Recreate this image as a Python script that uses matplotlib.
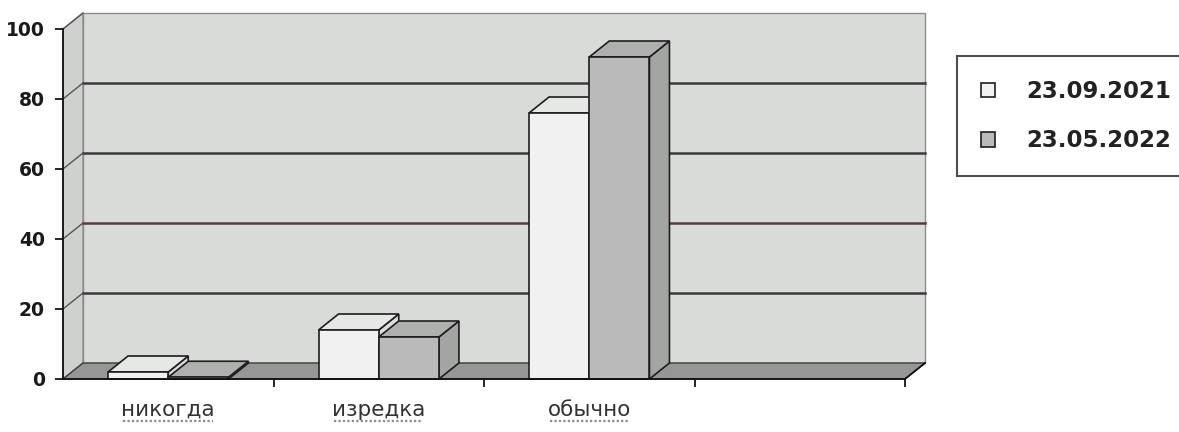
import matplotlib.pyplot as plt
from matplotlib.patches import Polygon
from matplotlib.lines import Line2D
import numpy as np

# data
categories = ["никогда", "изредка", "обычно", ""]
series_names = ["23.09.2021", "23.05.2022"]
values_2021 = [2, 14, 76]
values_2022 = [0.5, 12, 92]
y_ticks = [0, 20, 40, 60, 80, 100]

# styles
front_colors = ["#f0f1f0", "#b9bab9"]
top_colors = ["#e6e8e6", "#aeb0ae"]
side_colors = ["#dcdedc", "#a3a5a3"]
edge = "#1e1e1e"

fig = plt.figure(figsize=(11.79, 4.32), dpi=100)
ax = fig.add_axes([63 / 1179, 1 - 379 / 432, 842 / 1179, 350 / 432])

n_cat = len(categories)
ax.set_xlim(-0.5, n_cat - 0.5)
ax.set_ylim(0, 100)
ax.patch.set_visible(False)

# 3D depth offset in data units (20 px right, 16 px up)
DX = 20 / (842 / n_cat)
DY = 16 / 3.5
x_lo, x_hi = -0.5, n_cat - 0.5

# back wall, left wall, floor
ax.add_patch(Polygon([(x_lo + DX, DY), (x_hi + DX, DY), (x_hi + DX, 100 + DY), (x_lo + DX, 100 + DY)],
                     closed=True, facecolor="#d9dbd9", edgecolor="#8a8a8a", lw=1.0,
                     clip_on=False, zorder=0))
ax.add_patch(Polygon([(x_lo, 0), (x_lo, 100), (x_lo + DX, 100 + DY), (x_lo + DX, DY)],
                     closed=True, facecolor="#cfd1cf", edgecolor="#8a8a8a", lw=1.0,
                     clip_on=False, zorder=0))
ax.add_patch(Polygon([(x_lo, 0), (x_hi, 0), (x_hi + DX, DY), (x_lo + DX, DY)],
                     closed=True, facecolor="#959795", edgecolor="#3a3a3a", lw=1.0,
                     clip_on=False, zorder=0.5))

# gridlines on back wall and left wall
for v in y_ticks[1:-1]:
    c = "#5a3a40" if v == 40 else "#3a3a3a"
    ax.plot([x_lo + DX, x_hi + DX], [v + DY, v + DY], color=c, lw=1.8, clip_on=False, zorder=0.3)
for v in y_ticks[1:]:
    ax.plot([x_lo, x_lo + DX], [v, v + DY], color="#555555", lw=1.0, clip_on=False, zorder=0.3)

# bars: front faces through ax.bar, top and side faces as polygons
W = 0.286
all_bars = []
for s, vals in enumerate([values_2021, values_2022]):
    xs = np.arange(len(vals)) - W + s * W
    bars = ax.bar(xs, vals, width=W, align="edge", color=front_colors[s], edgecolor=edge,
                  lw=1.2, label=series_names[s], clip_on=False)
    for x0, h, p in zip(xs, vals, bars.patches):
        all_bars.append((x0, h, s, p))

all_bars.sort(key=lambda b: b[0])
for k, (x0, h, s, p) in enumerate(all_bars):
    base = 2 + k * 3
    x1 = x0 + W
    side = Polygon([(x1, 0), (x1 + DX, DY), (x1 + DX, h + DY), (x1, h)], closed=True,
                   facecolor=side_colors[s], edgecolor=edge, lw=1.2, clip_on=False, zorder=base)
    top = Polygon([(x0, h), (x1, h), (x1 + DX, h + DY), (x0 + DX, h + DY)], closed=True,
                  facecolor=top_colors[s], edgecolor=edge, lw=1.2, clip_on=False, zorder=base + 1)
    ax.add_patch(side)
    ax.add_patch(top)
    p.set_zorder(base + 2)

# axes lines
for sp in ["top", "right"]:
    ax.spines[sp].set_visible(False)
for sp in ["left", "bottom"]:
    ax.spines[sp].set_color("#111111")
    ax.spines[sp].set_linewidth(1.3)
    ax.spines[sp].set_zorder(50)
ax.plot([x_hi, x_hi + DX], [0, DY], color="#111111", lw=1.3, clip_on=False, zorder=50)

ax.set_yticks(y_ticks)
ax.set_yticklabels([str(v) for v in y_ticks], fontsize=13.5, fontweight="bold", color="#1a1a1a")
ax.tick_params(axis="y", direction="out", length=6, width=1.2, pad=7)

ax.set_xticks(np.arange(n_cat) + 0.5)
ax.set_xticklabels([])
ax.tick_params(axis="x", which="major", direction="out", length=6, width=1.2)
ax.set_xticks(np.arange(n_cat), minor=True)
ax.set_xticklabels(categories, minor=True, fontsize=15.5, color="#333333")
ax.tick_params(axis="x", which="minor", length=0, pad=15)

# legend
leg = fig.legend(loc="upper left", bbox_to_anchor=(957 / 1179, 1 - 56 / 432),
                 prop={"size": 16.5, "weight": "bold"}, frameon=True, fancybox=False,
                 handlelength=0.6, handleheight=0.6, handletextpad=1.35,
                 labelspacing=1.15, borderpad=1.05, borderaxespad=0)
leg.get_frame().set_edgecolor("#222222")
leg.get_frame().set_linewidth(1.5)
for t in leg.get_texts():
    t.set_color("#222222")

# dotted spell-check style underline under the category labels
fig.canvas.draw()
for lab in ax.get_xticklabels(minor=True):
    if not lab.get_text():
        continue
    bb = lab.get_window_extent()
    yy = bb.y0 - 1
    fig.add_artist(Line2D([bb.x0 + 2, bb.x1 - 2], [yy, yy], transform=None,
                          color="#8a8a8a", lw=1.6, ls=(0, (1, 1))))

fig.savefig("out.png", dpi=100)
